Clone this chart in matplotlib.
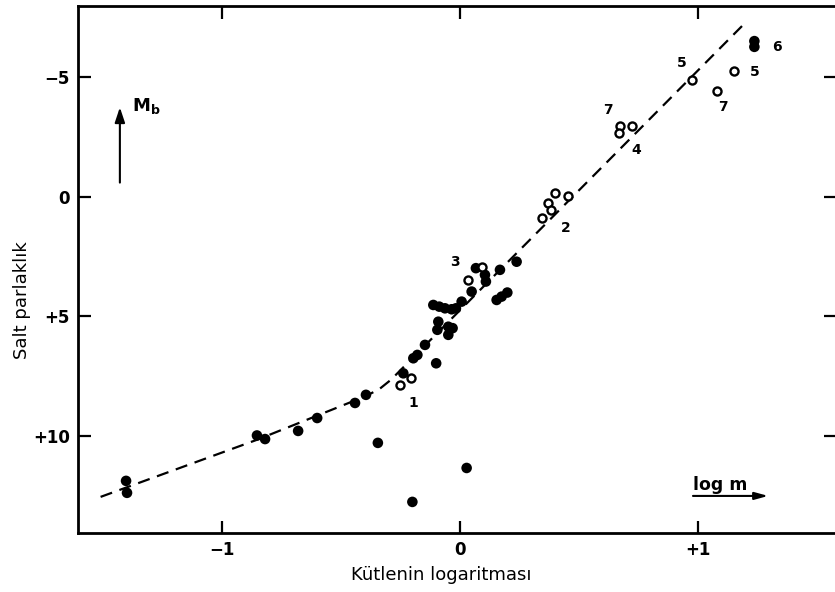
import matplotlib
matplotlib.use("Agg")
import matplotlib.pyplot as plt

# Stars with well-determined masses (filled symbols)
filled_logm = [-1.403, -1.399, -0.853, -0.819, -0.680, -0.600, -0.441, -0.395,
               -0.345, -0.200, 0.028, -0.238, -0.196, -0.179, -0.147, -0.100,
               -0.095, -0.091, -0.049, -0.031, -0.049, -0.112, -0.087, -0.063,
               -0.035, -0.017, 0.007, 0.049, 0.067, 0.105, 0.109, 0.168, 0.238,
               0.154, 0.175, 0.199, 1.237, 1.237]
filled_mb = [11.88, 12.38, 9.98, 10.13, 9.79, 9.25, 8.62, 8.28,
             10.29, 12.76, 11.34, 7.38, 6.75, 6.61, 6.19, 6.96,
             5.56, 5.22, 5.43, 5.49, 5.77, 4.52, 4.59, 4.66,
             4.70, 4.66, 4.38, 3.96, 2.98, 3.26, 3.54, 3.05, 2.71,
             4.31, 4.17, 4.00, -6.52, -6.28]

# Stars with less certain masses (open symbols)
open_logm = [-0.252, -0.207, 0.035, 0.091, 0.343, 0.371, 0.381, 0.399, 0.455,
             0.672, 0.669, 0.724, 0.973, 1.081, 1.153]
open_mb = [7.87, 7.59, 3.47, 2.92, 0.89, 0.27, 0.54, -0.15, -0.04,
           -2.97, -2.66, -2.97, -4.90, -4.45, -5.29]

# Mean mass-luminosity relation
curve_logm = [-1.51, -0.85, -0.50, -0.40, -0.34, -0.29, 1.19]
curve_mb = [12.55, 10.15, 8.75, 8.35, 8.05, 7.65, -7.20]

# Reference numbers written beside individual stars
label_text = ["1", "2", "3", "4", "5", "5", "6", "7", "7"]
label_logm = [-0.197, 0.445, -0.021, 0.739, 0.933, 1.239, 1.332, 0.622, 1.105]
label_mb = [8.62, 1.30, 2.72, -1.97, -5.61, -5.23, -6.28, -3.64, -3.77]

x_ticks = [-1, 0, 1]
x_tick_labels = ["\u22121", "0", "+1"]
y_ticks = [-5, 0, 5, 10]
y_tick_labels = ["\u22125", "0", "+5", "+10"]

plt.rcParams["font.family"] = ["DejaVu Sans"]

fig = plt.figure(figsize=(8.35, 5.92), dpi=100)
fig.patch.set_facecolor("white")
ax = fig.add_axes([0.0934, 0.0997, 0.9078, 0.8902])

ax.set_xlim(-1.605, 1.580)
ax.set_ylim(14.06, -7.99)

ax.plot(curve_logm, curve_mb, color="black", lw=1.6,
        linestyle=(0, (5.5, 3.5)), zorder=2)

ax.scatter(filled_logm, filled_mb, s=58, color="black", edgecolors="none",
           zorder=3)
ax.plot(open_logm, open_mb, linestyle="none", marker="o", markersize=5.8,
        markerfacecolor="white", markeredgecolor="black",
        markeredgewidth=1.7, zorder=4)

for t, lx, ly in zip(label_text, label_logm, label_mb):
    ax.text(lx, ly, t, fontsize=10, fontweight="bold", ha="center",
            va="center", zorder=5)

# Direction arrows
ax.annotate("", xy=(-1.429, -3.75), xytext=(-1.429, -0.60),
            arrowprops=dict(arrowstyle="-|>,head_length=0.9,head_width=0.3",
                            color="black", lw=1.5, shrinkA=0, shrinkB=0))
ax.text(-1.378, -3.8, r"$\mathbf{M}_{\mathbf{b}}$", fontsize=13,
        ha="left", va="center")

ax.annotate("", xy=(1.295, 12.51), xytext=(0.979, 12.51),
            arrowprops=dict(arrowstyle="-|>,head_length=0.8,head_width=0.22",
                            color="black", lw=1.5, shrinkA=0, shrinkB=0))
ax.text(0.979, 12.25, "log m", fontsize=12.5,
        fontweight="bold", ha="left", va="baseline")

ax.set_xticks(x_ticks)
ax.set_xticklabels(x_tick_labels)
ax.set_yticks(y_ticks)
ax.set_yticklabels(y_tick_labels)
ax.tick_params(axis="both", which="major", direction="in", length=9,
               width=1.6, labelsize=12, pad=6,
               top=True, right=True, labeltop=False, labelright=False)
for lab in ax.get_xticklabels() + ax.get_yticklabels():
    lab.set_fontweight("bold")

for sp in ax.spines.values():
    sp.set_linewidth(2.0)

fig.text(0.026, 0.493, "Salt parlakl\u0131k", rotation=90, fontsize=13,
         ha="center", va="center")
fig.text(0.529, 0.028, "K\u00fctlenin logaritmas\u0131", fontsize=13,
         ha="center", va="center")

fig.savefig("out.png", dpi=100, facecolor="white")
